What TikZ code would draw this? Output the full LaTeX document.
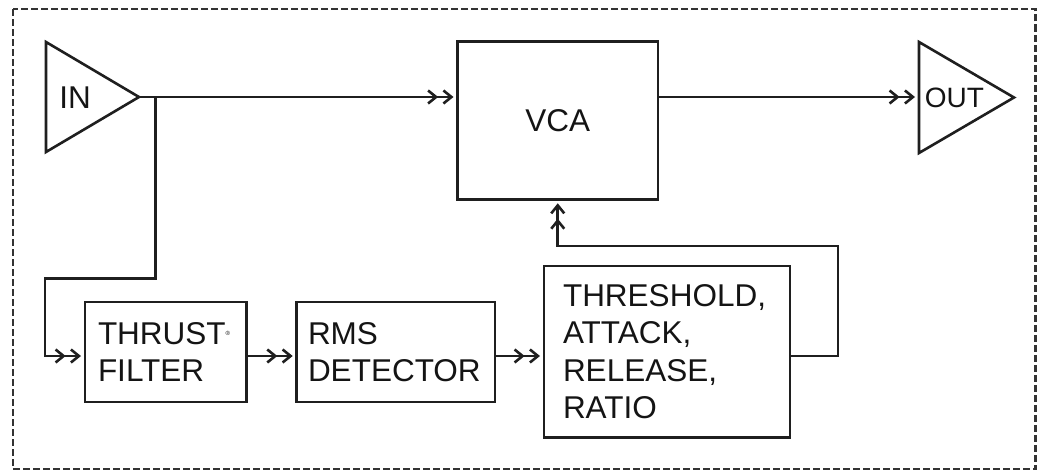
\documentclass[tikz,border=0pt]{standalone}
\usepackage{fontspec}
\setmainfont{Liberation Sans}
\usetikzlibrary{arrows.meta}
\newcommand\dgfont{\fontsize{31.5}{37.5}\selectfont}
\newcommand\dgsmall{\fontsize{28}{33}\selectfont}
\tikzset{
  ln/.style={line width=2.6pt, draw=black!88, line join=miter},
  dbl/.style={ln, -{Straight Barb[length=8pt,width=13pt,sep=4pt]Straight Barb[length=8pt,width=13pt,sep=4pt]}},
  blk/.style={ln, rectangle, inner ysep=0pt, outer sep=0pt, align=left, font=\dgfont, text=black!92},
  lbl/.style={font=\dgfont, text=black!92, inner sep=0pt},
  frame/.style={line width=2.6pt, draw=black!80, dash pattern=on 7pt off 3pt}
}
\begin{document}
\begin{tikzpicture}[x=1pt,y=-1pt]
\useasboundingbox (0,0) rectangle (1037,471);
\draw[frame] (13,9) rectangle (1035.5,469);

% IN triangle
\coordinate (inT) at (46,42);
\coordinate (inB) at (46,152);
\coordinate (inA) at (139,97);
\draw[ln] (inT) -- (inA) -- (inB) -- cycle;
\node[lbl] (inlbl) at (75,97.5) {IN};

% OUT triangle
\coordinate (outT) at (919,42);
\coordinate (outB) at (919,153);
\coordinate (outA) at (1014,97.5);
\draw[ln] (outT) -- (outA) -- (outB) -- cycle;
\node[lbl, font=\dgsmall] (outlbl) at (954.5,98) {OUT};

% blocks
\node[blk, align=center, minimum width=200.5pt, minimum height=157.6pt] (vca) at (557.75,120.5) {VCA};
\node[blk, text width=135.7pt, inner xsep=13pt, minimum height=100pt] (thrust) at (165.85,352) {THRUST\textsuperscript{\fontsize{6}{6}\selectfont ®}\\FILTER};
\node[blk, text width=175.7pt, inner xsep=11.3pt, minimum height=100pt] (rms) at (395.85,352) {RMS\\DETECTOR};
\node[blk, text width=208pt, inner xsep=19pt, minimum height=171.7pt] (thr) at (667,351.85) {THRESHOLD,\\ATTACK,\\RELEASE,\\RATIO};

% connectors
\coordinate (ly) at (0,356);
\coordinate (br) at (155.5,97);
\coordinate (bl) at (45,278.5);
\coordinate (fb) at (838,246);
\draw[dbl] (inA) -- (inA -| vca.west);
\draw[dbl] (br) |- (bl) |- (thrust.west |- ly);
\draw[dbl] (thrust.east |- ly) -- (rms.west |- ly);
\draw[dbl] (rms.east |- ly) -- (thr.west |- ly);
\draw[dbl] (thr.east |- ly) -| (fb) -| (vca.south);
\draw[dbl] (vca.east |- inA) -- (outT |- inA);
\end{tikzpicture}
\end{document}
